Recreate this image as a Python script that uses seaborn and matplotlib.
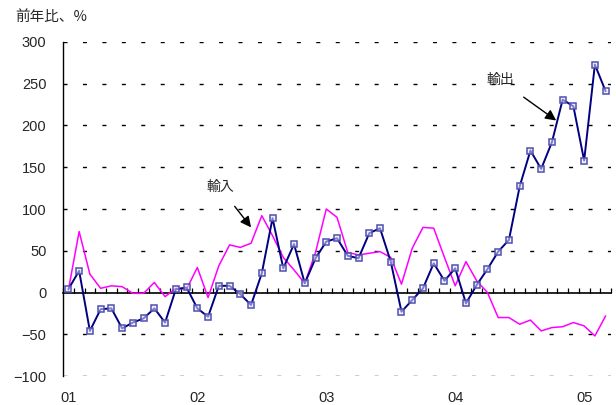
import numpy as np
import pandas as pd
import matplotlib
matplotlib.use("Agg")
import matplotlib.pyplot as plt
import seaborn as sns

# Monthly year-on-year change (%), Jan 2001 - Mar 2005
year_labels = ["01", "02", "03", "04", "05"]
exports = [4, 26, -46, -20, -19, -43, -36, -31, -19, -36, 4, 6,
           -19, -29, 8, 8, -2, -15, 23, 89, 29, 58, 11, 41,
           61, 65, 44, 41, 71, 77, 37, -23, -9, 5, 35, 14,
           29, -13, 9, 28, 49, 63, 127, 170, 148, 180, 231, 223,
           158, 273, 241]
imports = [3, 73, 22, 5, 8, 7, -1, -1, 12, -5, 5, 4,
           30, -6, 32, 57, 54, 59, 92, 68, 42, 27, 11, 48,
           100, 90, 48, 45, 47, 49, 42, 10, 53, 78, 77, 42,
           8, 37, 14, 0, -30, -30, -38, -33, -46, -42, -41, -36,
           -40, -52, -28]

sns.set_style("white")
plt.rcParams["font.family"] = ["Liberation Sans", "Noto Sans CJK JP", "DejaVu Sans"]
cjk = ["Noto Sans CJK JP", "DejaVu Sans"]

df = pd.DataFrame({"month": np.arange(len(exports)),
                   "exports": exports, "imports": imports})

fig = plt.figure(figsize=(6.16, 4.05), dpi=100)
ax = fig.add_axes([0.1023, 0.0716, 0.8896, 0.8247])

n = len(exports)
ax.set_xlim(-0.5, n - 0.5)
ax.set_ylim(-100, 300)
ax.set_yticks(np.arange(-100, 301, 50))

# dashed horizontal guides at each y tick
guide_levels = [v for v in ax.get_yticks() if v != 0]
ax.hlines(guide_levels, -0.5, n - 0.5, colors="black", linewidths=1.0,
          linestyles=[(0, (2.9, 11.1))], zorder=2)

sns.lineplot(data=df, x="month", y="imports", ax=ax, color="#ff00ff",
             linewidth=1.1, zorder=3)
sns.lineplot(data=df, x="month", y="exports", ax=ax, color="#000080",
             linewidth=1.4, marker="s", markersize=5,
             markeredgecolor="#5050b0", markerfacecolor=(0.9, 0.9, 0.98, 0.55),
             markeredgewidth=1.1, zorder=4)

ax.set_xlim(-0.5, n - 0.5)
ax.set_ylim(-100, 300)
ax.set_xticks(np.arange(0, n, 12), labels=year_labels)
ax.tick_params(axis="x", length=0, pad=11, labelsize=10.5)
ax.tick_params(axis="y", length=0, pad=12, labelsize=10.5)
ax.set_xlabel("")
ax.set_ylabel("")

for side in ("top", "right", "bottom"):
    ax.spines[side].set_visible(False)
ax.spines["left"].set_color("black")
ax.spines["left"].set_linewidth(1.0)

# zero line with monthly boundary ticks
zero = ax.secondary_xaxis(0, transform=ax.transData)
zero.patch.set_visible(False)
zero.set_xticks(np.arange(n + 1) - 0.5, labels=[])
zero.tick_params(direction="in", length=3.8, width=0.9, color="black")
zero.spines["bottom"].set_color("black")
zero.spines["bottom"].set_linewidth(1.2)

# series labels
arrow = dict(arrowstyle="-|>", color="black", lw=1.0,
             mutation_scale=16, shrinkA=8, shrinkB=0)
ax.annotate("輸入", xy=(17.0, 78), xytext=(14.1, 126), ha="center", va="center",
            fontsize=10, family=cjk, arrowprops=arrow)
ax.annotate("輸出", xy=(45.4, 206), xytext=(40.2, 254), ha="center", va="center",
            fontsize=10, family=cjk, arrowprops=arrow)

fig.text(15 / 616, 1 - 17 / 405, "前年比、%", ha="left", va="center",
         fontsize=10.5, family=cjk)

fig.savefig("out.png", dpi=100)
